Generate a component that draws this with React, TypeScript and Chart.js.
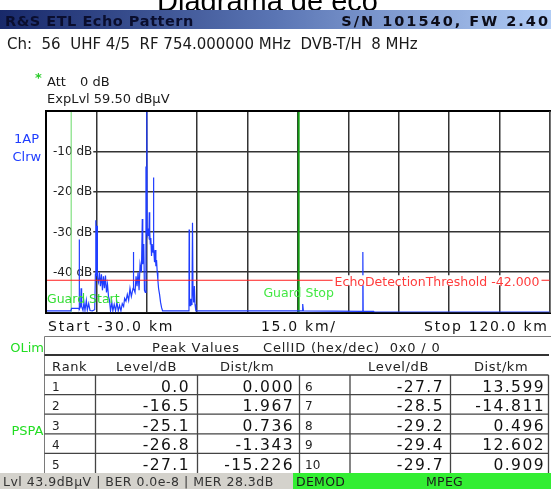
import React, { useEffect, useRef } from "react";
import { Chart, registerables } from "chart.js";

Chart.register(...registerables);

// ---- data ----
const distKm = [
  -30.0, -22.6, -22.4, -20.3, -20.15, -20.1, -20.05, -19.7, -19.55, -19.4,
  -19.0, -18.7, -18.4, -18.0, -17.7, -17.3, -16.9, -16.2, -15.5, -15.3,
  -15.23, -15.12, -14.95, -14.81, -14.7, -14.4, -14.1, -13.8, -13.5, -13.2,
  -12.9, -12.6, -12.3, -12.0, -11.7, -11.4, -11.1, -10.8, -10.4, -10.1,
  -9.7, -9.3, -8.9, -8.5, -8.1, -7.7, -7.3, -6.9, -6.6, -6.2,
  -5.8, -5.4, -5.0, -4.6, -4.1, -4.0, -3.9, -3.5, -3.2, -2.9,
  -2.6, -2.3, -2.0, -1.6, -1.34, -1.2, -0.9, -0.7, -0.45, -0.25,
  -0.1, 0.0, 0.12, 0.3, 0.5, 0.62, 0.74, 0.82, 0.91, 1.05,
  1.2, 1.4, 1.6, 1.85, 1.97, 2.1, 2.3, 2.5, 2.7, 2.9,
  3.1, 3.3, 3.5, 3.8, 4.1, 4.4, 4.7, 12.45, 12.55, 12.6,
  12.7, 12.9, 13.1, 13.3, 13.45, 13.6, 13.75, 13.95, 14.15, 14.35,
  14.6, 46.2, 46.4, 46.6, 64.2, 64.3, 64.4, 67.5, 67.6, 120.0,
];
const levelDb = [
  -49.6, -49.6, -49.0, -49.0, -49.2, -31.9, -49.2, -48.5, -44.0, -48.5,
  -49.5, -47.5, -49.5, -47.0, -49.4, -47.8, -49.5, -49.6, -49.3, -40.5,
  -27.1, -40.0, -41.0, -28.5, -41.5, -42.5, -40.0, -43.5, -40.5, -44.5,
  -41.0, -44.0, -40.8, -45.0, -43.0, -46.0, -47.0, -49.6, -47.5, -49.6,
  -48.0, -49.6, -47.5, -49.6, -48.2, -49.6, -47.8, -48.5, -46.5, -47.2,
  -45.5, -47.0, -44.0, -46.0, -44.0, -35.0, -44.0, -45.0, -41.0, -43.5,
  -40.0, -44.5, -38.0, -40.0, -26.8, -38.0, -33.0, -44.5, -45.0, -13.8,
  -30.0, 0.0, -30.5, -31.0, -29.2, -31.0, -25.1, -32.0, -29.7, -33.0,
  -31.5, -36.0, -33.0, -35.0, -16.5, -34.0, -37.5, -34.5, -38.5, -37.0,
  -40.0, -42.0, -44.0, -45.5, -47.5, -48.8, -49.6, -49.6, -47.0, -29.4,
  -46.5, -48.3, -46.6, -48.0, -46.0, -27.7, -45.0, -47.5, -43.4, -48.0,
  -49.6, -49.6, -47.9, -49.6, -49.7, -35.0, -49.7, -49.7, -49.9, -49.9,
];
const yTickValues = [-10, -20, -30, -40];
const yTickLabels = ["-10 dB", "-20 dB", "-30 dB", "-40 dB"];
const thresholdDb = -42;
const guardStartKm = -22.5;
const guardStopKm = 45.2;
const peakRanks = [1, 2, 3, 4, 5, 6, 7, 8, 9, 10];
const peakLevels = [0.0, -16.5, -25.1, -26.8, -27.1, -27.7, -28.5, -29.2, -29.4, -29.7];
const peakDists = [0.0, 1.967, 0.736, -1.343, -15.226, 13.599, -14.811, 0.496, 12.602, 0.909];

const FONT = "'DejaVu Sans', Verdana, sans-serif";

function spaced(
  ctx: CanvasRenderingContext2D,
  text: string,
  x: number,
  y: number,
  sp: number,
  align: "left" | "right" | "center" = "left"
) {
  const chars = Array.from(text);
  const widths = chars.map((c) => ctx.measureText(c).width);
  const total = widths.reduce((a, b) => a + b, 0) + sp * (chars.length - 1);
  let cx = align === "left" ? x : align === "right" ? x - total : x - total / 2;
  ctx.textAlign = "left";
  chars.forEach((c, i) => {
    ctx.fillText(c, cx, y);
    cx += widths[i] + sp;
  });
  return total;
}

const framePlugin = {
  id: "etlFrame",
  beforeDraw(chart: any) {
    const ctx: CanvasRenderingContext2D = chart.ctx;
    const W = chart.width;
    ctx.save();
    ctx.fillStyle = "#ffffff";
    ctx.fillRect(0, 0, W, chart.height);
    ctx.textBaseline = "alphabetic";

    // title (partly hidden under the header bar)
    ctx.fillStyle = "#000";
    ctx.font = "29px 'Liberation Sans', Arial, sans-serif";
    ctx.textAlign = "center";
    ctx.fillText("Diagrama de eco", 267.5, 10.5);

    // header bar
    const g = ctx.createLinearGradient(0, 0, W, 0);
    g.addColorStop(0, "#18296a");
    g.addColorStop(0.5, "#5a75b4");
    g.addColorStop(1, "#b2cdf6");
    ctx.fillStyle = g;
    ctx.fillRect(0, 10, W, 19);
    ctx.font = `bold 14.5px ${FONT}`;
    ctx.fillStyle = "#0a0e2e";
    spaced(ctx, "R&S ETL Echo Pattern", 5, 25.5, 0.5);
    ctx.fillStyle = "#0c0c18";
    spaced(ctx, "S/N 101540, FW 2.40", 548, 25.5, 2.0, "right");

    // channel line
    ctx.font = `15px ${FONT}`;
    ctx.fillStyle = "#1a1a1a";
    ctx.textAlign = "left";
    ctx.fillText("Ch:  56  UHF 4/5  RF 754.000000 MHz  DVB-T/H  8 MHz", 7, 49);

    // att / exp level
    ctx.font = `bold 13px ${FONT}`;
    ctx.fillStyle = "#2dcc2d";
    ctx.fillText("*", 35, 82);
    ctx.font = `13px ${FONT}`;
    ctx.fillStyle = "#1a1a1a";
    ctx.fillText("Att", 47, 85.5);
    ctx.fillText("0 dB", 80, 85.5);
    ctx.fillText("ExpLvl 59.50 dB\u00B5V", 47, 102.7);

    // trace info
    ctx.fillStyle = "#1f3dff";
    ctx.fillText("1AP", 14, 143);
    ctx.fillText("Clrw", 12.5, 160.5);

    // span line under the plot
    ctx.font = `14px ${FONT}`;
    ctx.fillStyle = "#111";
    spaced(ctx, "Start -30.0 km", 48, 331, 1.8);
    spaced(ctx, "15.0 km/", 261, 331, 1.7);
    spaced(ctx, "Stop 120.0 km", 547, 331, 1.7, "right");

    // table frame
    ctx.strokeStyle = "#7a7a7a";
    ctx.lineWidth = 1;
    ctx.beginPath();
    ctx.moveTo(44.5, 336.5);
    ctx.lineTo(W, 336.5);
    ctx.moveTo(44.5, 336.5);
    ctx.lineTo(44.5, 473);
    ctx.stroke();

    ctx.font = `13px ${FONT}`;
    ctx.fillStyle = "#22dd22";
    ctx.textAlign = "right";
    ctx.fillText("OLim", 44, 352);
    ctx.fillText("PSPA", 43.5, 435);

    ctx.fillStyle = "#222";
    spaced(ctx, "Peak Values", 152, 352, 0.8);
    spaced(ctx, "CellID (hex/dec)  0x0 / 0", 263, 352, 0.8);

    ctx.strokeStyle = "#333";
    ctx.lineWidth = 2;
    ctx.beginPath();
    ctx.moveTo(44.5, 355);
    ctx.lineTo(549, 355);
    ctx.stroke();

    spaced(ctx, "Rank", 52, 371, 0.6);
    spaced(ctx, "Level/dB", 116, 371, 0.6);
    spaced(ctx, "Dist/km", 220, 371, 0.6);
    spaced(ctx, "Level/dB", 368, 371, 0.6);
    spaced(ctx, "Dist/km", 474, 371, 0.6);

    const rowTop = 375;
    const rowH = 19.6;
    const tableBottom = 473;
    ctx.strokeStyle = "#444";
    ctx.lineWidth = 1.3;
    ctx.beginPath();
    for (let i = 0; i < 5; i++) {
      const y = rowTop + i * rowH;
      ctx.moveTo(44.5, y);
      ctx.lineTo(548.5, y);
    }
    [95.5, 197.5, 299.5, 350, 450.5, 548.5].forEach((x) => {
      ctx.moveTo(x, rowTop);
      ctx.lineTo(x, tableBottom);
    });
    ctx.stroke();

    for (let i = 0; i < peakRanks.length; i++) {
      const col = i < 5 ? 0 : 1;
      const r = i % 5;
      const bottom = rowTop + (r + 1) * rowH;
      ctx.font = `12px ${FONT}`;
      ctx.fillStyle = "#222";
      ctx.textAlign = "left";
      ctx.fillText(String(peakRanks[i]), col === 0 ? 52 : 305, bottom - 4);
      ctx.font = `15.5px ${FONT}`;
      ctx.fillStyle = "#111";
      spaced(ctx, peakLevels[i].toFixed(1), col === 0 ? 188.5 : 442.5, bottom - 3, 1.4, "right");
      spaced(ctx, peakDists[i].toFixed(3), col === 0 ? 292.5 : 543.5, bottom - 3, 1.4, "right");
    }

    // status bar
    ctx.fillStyle = "#d4d2cc";
    ctx.fillRect(0, tableBottom, 293, chart.height - tableBottom);
    ctx.fillStyle = "#33ee33";
    ctx.fillRect(293, tableBottom, W - 293, chart.height - tableBottom);
    ctx.font = `12.5px ${FONT}`;
    ctx.fillStyle = "#333";
    spaced(ctx, "Lvl 43.9dB\u00B5V | BER 0.0e-8 | MER 28.3dB", 3, 486, 0.5);
    ctx.fillStyle = "#1a1a1a";
    spaced(ctx, "DEMOD", 296, 486, 0.3);
    spaced(ctx, "MPEG", 426, 486, 0.3);
    ctx.restore();
  },
  beforeDatasetsDraw(chart: any) {
    const ctx: CanvasRenderingContext2D = chart.ctx;
    const { left, top, bottom } = chart.chartArea;
    const ys = chart.scales.y;
    const xs = chart.scales.x;
    ctx.save();
    ctx.font = `12px ${FONT}`;
    ctx.textBaseline = "middle";
    yTickValues.forEach((v, i) => {
      const y = ys.getPixelForValue(v);
      const w = ctx.measureText(yTickLabels[i]).width;
      ctx.fillStyle = "#fff";
      ctx.fillRect(left + 1, y - 6.5, w + 7, 13);
      ctx.fillStyle = "#222";
      ctx.textAlign = "left";
      ctx.fillText(yTickLabels[i], left + 7, y + 0.5);
    });
    // guard lines
    const gx1 = xs.getPixelForValue(guardStartKm);
    ctx.strokeStyle = "#80e080";
    ctx.lineWidth = 1.2;
    ctx.beginPath();
    ctx.moveTo(gx1, top);
    ctx.lineTo(gx1, bottom);
    ctx.stroke();
    const gx2 = xs.getPixelForValue(guardStopKm);
    ctx.strokeStyle = "#129a12";
    ctx.lineWidth = 2;
    ctx.beginPath();
    ctx.moveTo(gx2, top);
    ctx.lineTo(gx2, bottom);
    ctx.stroke();
    ctx.restore();
  },
  afterDatasetsDraw(chart: any) {
    const ctx: CanvasRenderingContext2D = chart.ctx;
    const { left, right, top, bottom } = chart.chartArea;
    const ys = chart.scales.y;
    const xs = chart.scales.x;
    ctx.save();
    // threshold
    const ty = ys.getPixelForValue(thresholdDb);
    ctx.strokeStyle = "#ff1e1e";
    ctx.lineWidth = 1;
    ctx.beginPath();
    ctx.moveTo(left, ty);
    ctx.lineTo(right, ty);
    ctx.stroke();
    ctx.font = `12.5px ${FONT}`;
    const label = `EchoDetectionThreshold ${thresholdDb.toFixed(3)}`;
    const lw = ctx.measureText(label).width;
    const lx = right - 10.5 - lw;
    ctx.fillStyle = "#fff";
    ctx.fillRect(lx - 2, ty - 5, lw + 4, 10);
    ctx.fillStyle = "#ff3c3c";
    ctx.textAlign = "left";
    ctx.textBaseline = "alphabetic";
    ctx.fillText(label, lx, ty + 6);

    // guard labels
    ctx.fillStyle = "#33dd33";
    const gs = "Guard Start";
    const gsw = ctx.measureText(gs).width;
    const gsx = Math.max(left + 1, xs.getPixelForValue(guardStartKm) - gsw / 2);
    ctx.fillText(gs, gsx, 303);
    ctx.fillStyle = "#44e844";
    const gt = "Guard Stop";
    const gtw = ctx.measureText(gt).width;
    ctx.fillText(gt, xs.getPixelForValue(guardStopKm) - gtw / 2, 297);

    // frame
    ctx.fillStyle = "#000";
    ctx.fillRect(left - 1, top - 1, 2, bottom - top + 2);
    ctx.fillRect(left - 1, top - 1, right - left + 2, 2);
    ctx.fillRect(left - 1, bottom, right - left + 2, 1.5);
    ctx.fillStyle = "#555";
    ctx.fillRect(right - 0.5, top, 1, bottom - top);
    ctx.restore();
  },
};

export default function App() {
  const ref = useRef<HTMLCanvasElement | null>(null);
  useEffect(() => {
    if (!ref.current) return;
    const points = distKm.map((x, i) => ({ x, y: levelDb[i] }));
    const grid = { color: "#333333", lineWidth: 1.5, drawTicks: false };
    const chart = new Chart(ref.current, {
      type: "line",
      data: {
        datasets: [
          {
            data: points,
            borderColor: "#1f3dff",
            borderWidth: 1.2,
            pointRadius: 0,
            tension: 0,
            fill: false,
          },
        ],
      },
      options: {
        responsive: false,
        animation: false,
        devicePixelRatio: 1,
        layout: { padding: { left: 46, top: 111, right: 1, bottom: 176.5 } },
        plugins: {
          legend: { display: false },
          tooltip: { enabled: false },
          title: { display: false },
        },
        scales: {
          x: {
            type: "linear",
            min: -30,
            max: 120,
            ticks: { display: false, stepSize: 15 },
            grid,
            border: { display: false },
          },
          y: {
            type: "linear",
            min: -50,
            max: 0,
            ticks: { display: false, stepSize: 10 },
            grid,
            border: { display: false },
          },
        },
      },
      plugins: [framePlugin],
    } as any);
    return () => chart.destroy();
  }, []);
  return (
    <div
      style={{
        position: "fixed",
        left: 0,
        top: 0,
        width: 551,
        height: 489,
        background: "#fff",
      }}
    >
      <canvas ref={ref} width={551} height={489} style={{ display: "block", width: 551, height: 489 }} />
    </div>
  );
}
